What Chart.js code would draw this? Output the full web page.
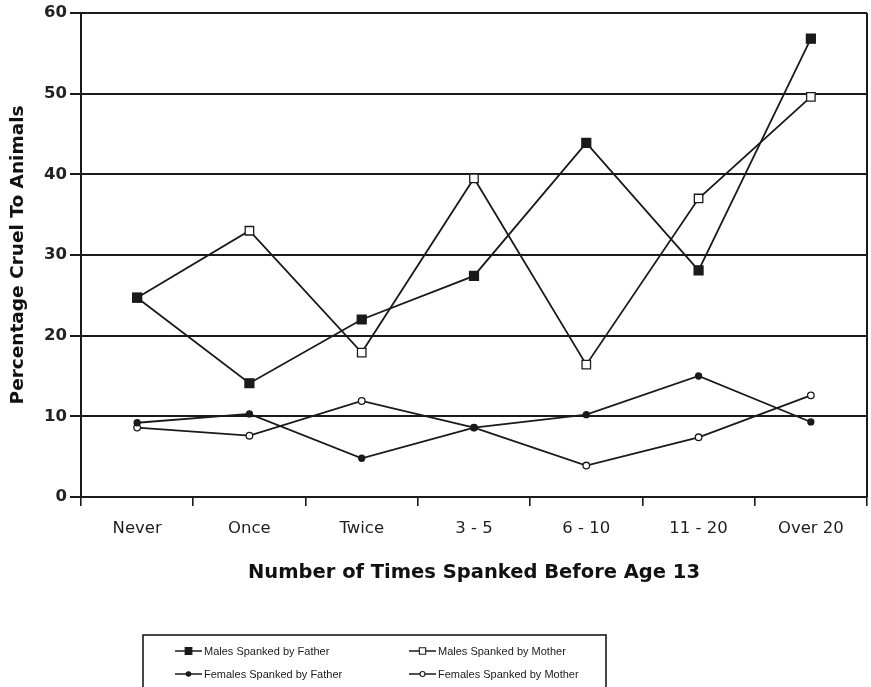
<html lang="en">
<head>
  <meta charset="utf-8">
  <script src="https://cdn.jsdelivr.net/npm/chart.js@4.4.1/dist/chart.umd.min.js"></script>
  <style>
    body { margin: 0; background: #fff; }
    #wrap { position: relative; width: 871px; height: 687px; }
  </style>
</head>
<body>
<div id="wrap">
  <canvas id="myChart" width="871" height="687"></canvas>
</div>
<script>
  const categories = ['Never', 'Once', 'Twice', '3 - 5', '6 - 10', '11 - 20', 'Over 20'];
  const malesFather = [24.7, 14.1, 22.0, 27.4, 43.9, 28.1, 56.8];
  const malesMother = [24.7, 33.0, 17.9, 39.5, 16.4, 37.0, 49.6];
  const femalesFather = [9.2, 10.3, 4.8, 8.6, 10.2, 15.0, 9.3];
  const femalesMother = [8.6, 7.6, 11.9, 8.6, 3.9, 7.4, 12.6];
  const yTicks = [0, 10, 20, 30, 40, 50, 60];

  const ink = '#1a1a1a';

  function series(label, data, style, radius, fill) {
    return {
      label: label,
      data: data,
      borderColor: ink,
      borderWidth: 1.8,
      pointStyle: style,
      pointRadius: radius,
      pointHoverRadius: radius,
      pointBackgroundColor: fill,
      pointBorderColor: ink,
      pointBorderWidth: 1.3,
      tension: 0
    };
  }

  const dataChart = {
    labels: categories,
    datasets: [
      series('Males Spanked by Father', malesFather, 'rect', 6.3, ink),
      series('Males Spanked by Mother', malesMother, 'rect', 6, '#fff'),
      series('Females Spanked by Father', femalesFather, 'circle', 3, ink),
      series('Females Spanked by Mother', femalesMother, 'circle', 3.3, '#fff')
    ]
  };

  // boxed two-column legend under the axis title, plus the right border of the plot
  const boxLegend = {
    id: 'boxLegend',
    afterDraw(chart) {
      const ctx = chart.ctx;
      const area = chart.chartArea;
      ctx.save();
      ctx.strokeStyle = ink;
      ctx.lineWidth = 2;
      ctx.beginPath();
      ctx.moveTo(area.right, area.top);
      ctx.lineTo(area.right, area.bottom);
      ctx.stroke();

      ctx.lineWidth = 1.6;
      ctx.strokeRect(143, 635, 463, 60);
      const cols = [175, 409];
      const rows = [651, 674];
      ctx.font = '11px "Liberation Sans", Arial, sans-serif';
      ctx.fillStyle = ink;
      ctx.textBaseline = 'middle';
      chart.data.datasets.forEach((ds, i) => {
        const x = cols[i % 2];
        const y = rows[Math.floor(i / 2)];
        ctx.strokeStyle = ink;
        ctx.lineWidth = 1.5;
        ctx.beginPath();
        ctx.moveTo(x, y);
        ctx.lineTo(x + 27, y);
        ctx.stroke();
        ctx.fillStyle = ds.pointBackgroundColor;
        ctx.lineWidth = 1.1;
        Chart.helpers.drawPoint(ctx, {
          pointStyle: ds.pointStyle,
          rotation: 0,
          radius: ds.pointRadius * 0.75,
          borderWidth: 1.1
        }, x + 13.5, y);
        ctx.fillStyle = ink;
        ctx.fillText(ds.label, x + 29, y + 1);
      });
      ctx.restore();
    }
  };

  const configChart = {
    type: 'line',
    data: dataChart,
    options: {
      responsive: false,
      animation: false,
      layout: { autoPadding: false, padding: { top: 11, right: 4, bottom: 90, left: 0 } },
      plugins: {
        legend: { display: false },
        tooltip: { enabled: false }
      },
      scales: {
        x: {
          offset: true,
          grid: {
            offset: true,
            drawOnChartArea: false,
            tickLength: 9,
            color: ink,
            lineWidth: 1.6
          },
          border: { color: ink, width: 2 },
          ticks: {
            padding: 13,
            color: '#1e1e1e',
            font: { family: '"DejaVu Sans"', size: 16.5 }
          },
          title: {
            display: true,
            text: 'Number of Times Spanked Before Age 13',
            color: '#111',
            font: { family: '"DejaVu Sans"', size: 19.5, weight: 'bold' },
            padding: { top: 0, bottom: 12 }
          },
          afterFit(scale) {
            scale.height = 100;
            scale.paddingLeft = 0;
            scale.paddingRight = 0;
          }
        },
        y: {
          min: 0,
          max: 60,
          afterBuildTicks(scale) {
            scale.ticks = yTicks.map(v => ({ value: v }));
          },
          grid: {
            tickLength: 11,
            color: ink,
            lineWidth: 2
          },
          border: { color: ink, width: 2 },
          ticks: {
            padding: 3,
            color: '#222',
            font: { family: '"DejaVu Sans"', size: 16.5, weight: 'bold' }
          },
          title: {
            display: true,
            text: 'Percentage Cruel To Animals',
            color: '#111',
            font: { family: '"DejaVu Sans"', size: 18.5, weight: 'bold' },
            padding: { top: 7, bottom: 0 }
          },
          afterFit(scale) { scale.width = 81; }
        }
      }
    },
    plugins: [boxLegend]
  };

  const ch = document.getElementById('myChart').getContext('2d');
  var chartVar = new Chart(ch, configChart);
</script>
</body>
</html>
